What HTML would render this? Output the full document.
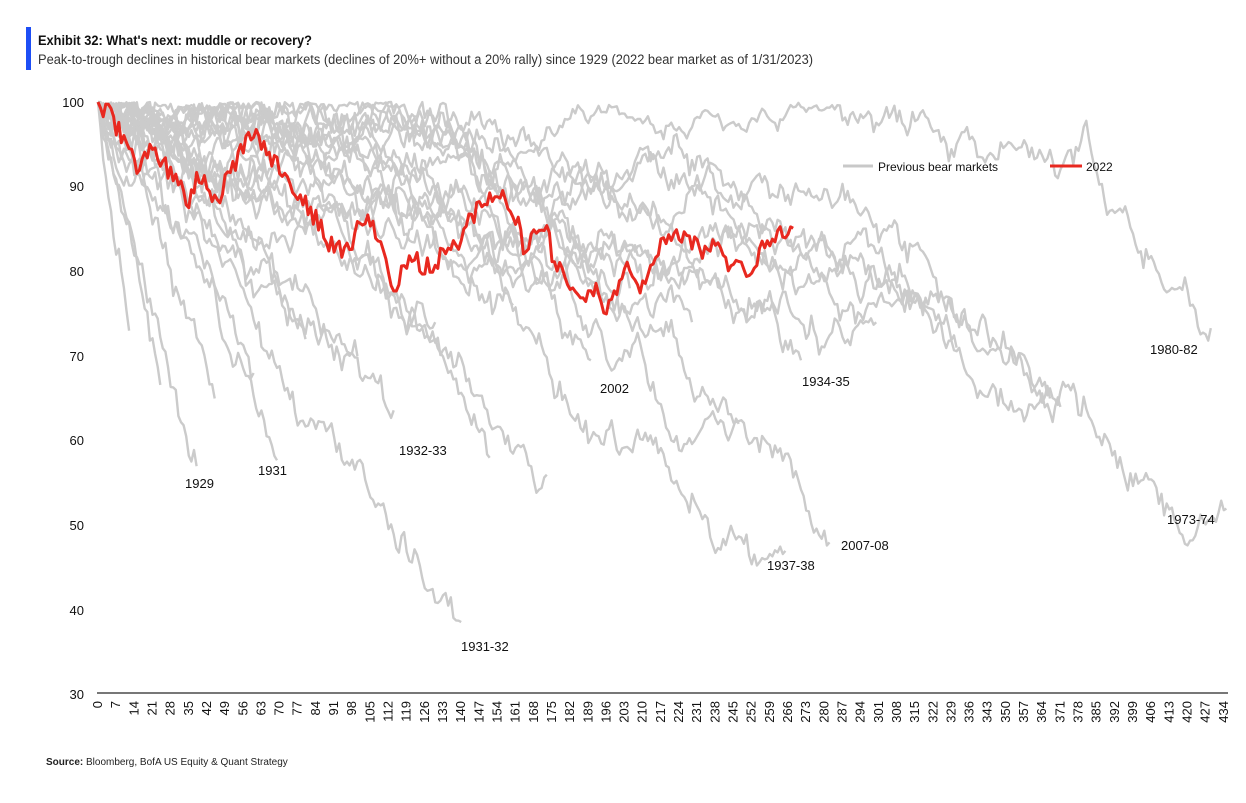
<!DOCTYPE html>
<html><head><meta charset="utf-8"><style>
body{margin:0;background:#fff;width:1246px;height:798px;overflow:hidden;font-family:"Liberation Sans",sans-serif}
</style></head><body>
<svg id="s" width="1246" height="798" xmlns="http://www.w3.org/2000/svg" font-family="Liberation Sans, sans-serif">
<rect x="26" y="27" width="5" height="43" fill="#1d4ef5"/>
<text x="38" y="45" font-size="14" font-weight="bold" fill="#111" textLength="274" lengthAdjust="spacingAndGlyphs">Exhibit 32: What's next: muddle or recovery?</text>
<text x="38" y="64" font-size="13.5" fill="#333" textLength="775" lengthAdjust="spacingAndGlyphs">Peak-to-trough declines in historical bear markets (declines of 20%+ without a 20% rally) since 1929 (2022 bear market as of 1/31/2023)</text>
<g id="g"></g>
<line x1="97" y1="693" x2="1228" y2="693" stroke="#777" stroke-width="2"/>
<g font-size="13" fill="#111" text-anchor="end">
<text x="84" y="107">100</text><text x="84" y="191">90</text><text x="84" y="276">80</text><text x="84" y="361">70</text><text x="84" y="445">60</text><text x="84" y="530">50</text><text x="84" y="615">40</text><text x="84" y="699">30</text>
</g>
<g id="xt" font-size="13" fill="#111"></g>
<g font-size="13" fill="#111">
<text x="185" y="488">1929</text><text x="258" y="475">1931</text><text x="399" y="455">1932-33</text><text x="461" y="651">1931-32</text><text x="600" y="393">2002</text><text x="802" y="386">1934-35</text><text x="767" y="570">1937-38</text><text x="841" y="550">2007-08</text><text x="1167" y="524">1973-74</text><text x="1150" y="354">1980-82</text>
</g>
<line x1="843" y1="166" x2="873" y2="166" stroke="#c8c8c8" stroke-width="3"/>
<text x="878" y="171" font-size="12" fill="#111">Previous bear markets</text>
<line x1="1050" y1="166" x2="1082" y2="166" stroke="#e8281f" stroke-width="3"/>
<text x="1086" y="171" font-size="12" fill="#111">2022</text>
<text x="46" y="765" font-size="10" fill="#222"><tspan font-weight="bold">Source:</tspan> Bloomberg, BofA US Equity &amp; Quant Strategy</text>
</svg>
<script>
var NS="http://www.w3.org/2000/svg";
function X(i){return 98+i*2.594}function Y(v){return 102+(100-v)*8.47}
var xt=document.getElementById('xt');
for(var i=0;i<=434;i+=7){var t=document.createElementNS(NS,'text');var x=X(i)+4;t.setAttribute('transform','translate('+x+',701) rotate(-90)');t.setAttribute('text-anchor','end');t.textContent=i;xt.appendChild(t);}
var seed=11;function r(){seed=(seed*16807)%2147483647;return seed/2147483647;}
var g=document.getElementById('g');
function path(pts,col,w){var p=document.createElementNS(NS,'path');p.setAttribute('d','M'+pts.map(function(q){return X(q[0]).toFixed(1)+','+Y(q[1]).toFixed(1)}).join('L'));p.setAttribute('fill','none');p.setAttribute('stroke',col);p.setAttribute('stroke-width',w);p.setAttribute('stroke-linejoin','round');g.appendChild(p);}
var S=[[38,57,1],[69,57.7,2],[114,63.6,3],[140,38.6,2],[190,69.5,5],[271,69.5,7],[265,47,10],[282,48,7],[435,52,9],[429,73.3,10],[371,64,8],[367,65,6],[173,56,4],[151,58,5],[229,74,7],[300,74,7],[331,71,6],[247,62,4],[12,73,0],[24,66.6,1],[45,65,2],[60,68,2],[80,72,3],[100,70,3],[130,74,4],[160,76,5],[205,78,8],[320,76,7]];
S.forEach(function(s){var n=s[0],e=s[1],b=s[2],pts=[],w=0,ws=[0];for(var i=1;i<=n;i++){w+=(r()-0.5)*3;ws.push(w);}
for(var i=0;i<=n;i++){var f=i/n;var v=100+(e-100)*Math.pow(f,0.95)+(ws[i]-ws[n]*f)*0.9+b*Math.sin(Math.PI*f)+(i>0&&i<n?(r()-0.5)*1.4:0);if(v>100)v=100-(v-100)*0.6;pts.push([i,v]);}
path(pts,'#cbcbcb',2.4);});
var R=[[0,100],[4.6,98.5],[10,95.5],[16,91],[20,95.5],[26,92.6],[35,88.4],[39,91.4],[45,88],[53,93],[60,96.7],[68,93],[76,89.6],[82,87.2],[88,83.7],[95,82],[103,86.7],[109,83.7],[114,77.2],[120,82],[126,80.2],[134,82],[139,83.7],[145,86.7],[155,89.8],[161,86.7],[164,82.5],[172,85.5],[176,81.3],[186,76.6],[190,78.5],[196,75.2],[203,80.8],[209,78.4],[217,83.2],[224,84.9],[232,82.3],[238,83.7],[244,80.4],[251,80.2],[259,83.7],[268,85.1]];
var rp=[];for(var k=0;k<R.length-1;k++){var a=R[k],c=R[k+1];for(var i=Math.ceil(a[0]);i<c[0];i++){var f=(i-a[0])/(c[0]-a[0]);rp.push([i,a[1]+(c[1]-a[1])*f+(i>0?(r()-0.5)*2.4:0)]);}}
rp.push(R[R.length-1]);path(rp,'#e8281f',3);
</script>
</body></html>
